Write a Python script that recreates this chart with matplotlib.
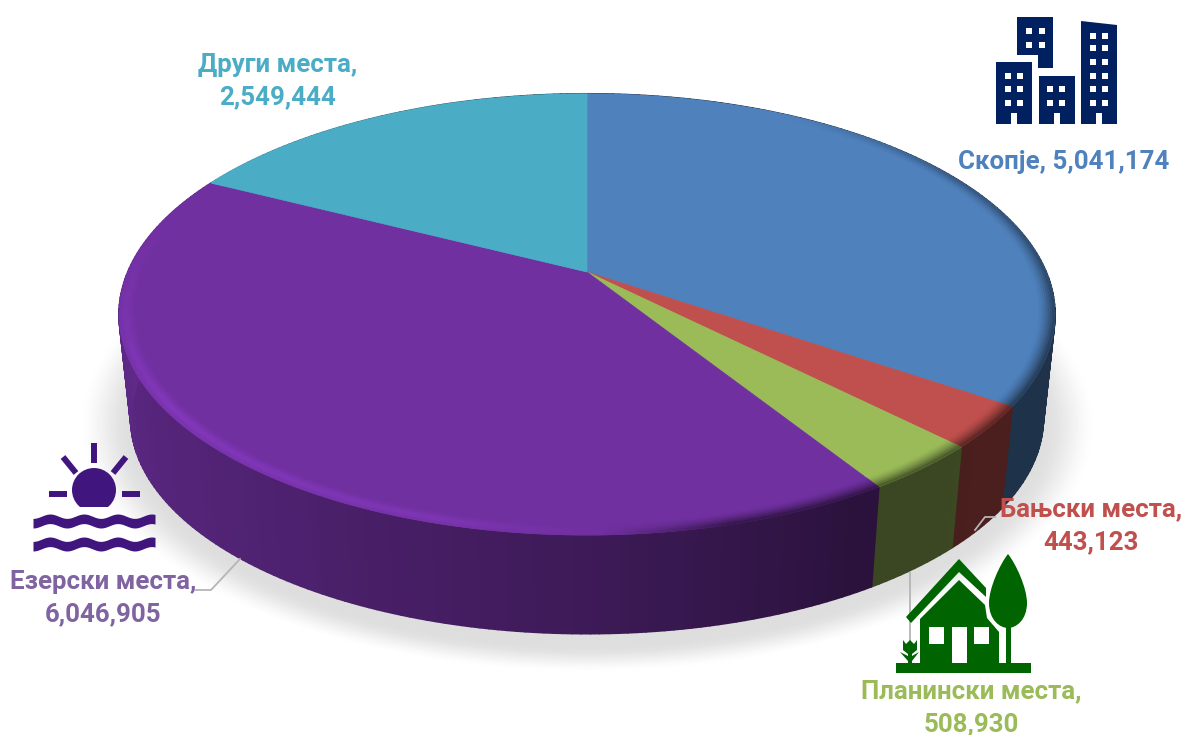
import numpy as np
import matplotlib
matplotlib.use('Agg')
import matplotlib.pyplot as plt
from matplotlib.collections import PolyCollection
from matplotlib.patches import Polygon, Rectangle, Circle, PathPatch
from matplotlib.path import Path

mesta = ['Скопје', 'Бањски места', 'Планински места', 'Езерски места', 'Други места']
turisti = [5041174, 443123, 508930, 6046905, 2549444]
boi = ['#4F81BD', '#C0504D', '#9BBB59', '#7030A0', '#4BACC6']
boi_tekst = ['#4F81BD', '#C0504D', '#9BBB59', '#8064A2', '#4BACC6']

# perspektiva na diskot
CX, CY = 587, 272
A, B, K = 459, 212.3, 0.1927
ELIPSA_Y = 315
DNO_Y = 419
DNO_S = 0.975


def proekcija(theta, r=1.0):
    u = r * np.sin(theta)
    v = r * np.cos(theta)
    w = 1 + K * v
    return CX + A * u / w, CY - B * v / w


def dno(x, y):
    return CX + DNO_S * (x - CX), DNO_Y + DNO_S * (y - ELIPSA_Y)


def osvetlenie(stepeni):
    return np.interp(stepeni % 360, [0, 90, 150, 180, 220, 270, 300, 360],
                     [0.4, 0.39, 0.38, 0.55, 0.72, 0.86, 0.9, 0.4])


def rab(stepeni):
    return np.interp(stepeni % 360, [0, 30, 60, 110, 165, 178, 195, 235, 265, 290, 360],
                     [0, 0, -0.3, -0.55, -0.55, 0, 0.12, 0.16, 0.07, 0, 0])


def boja(c, f):
    rgb = np.array(matplotlib.colors.to_rgb(c))
    return tuple(np.clip(rgb * (1 + f), 0, 1))


fig = plt.figure(figsize=(11.84, 7.35), dpi=100)
ax = fig.add_axes([0, 0, 1, 1])
ax.set_xlim(0, 1184)
ax.set_ylim(735, 0)
ax.axis('off')

plt.rcParams['font.family'] = ['Roboto', 'DejaVu Sans']

# senka pod pitata
yy, xx = np.mgrid[0:735, 0:1184]
d = np.sqrt(((xx - CX) / 478) ** 2 + ((yy - DNO_Y - 6) / 232) ** 2)
t = np.clip((1.07 - d) / 0.12, 0, 1)
t = t * t * (3 - 2 * t)
siva = 1 - 0.13 * t
ax.imshow(siva, cmap='gray', vmin=0, vmax=1, extent=(0, 1184, 735, 0), zorder=0, aspect='auto')

dela = np.array(turisti) / sum(turisti)
granici = np.concatenate([[0], np.cumsum(dela)]) * 2 * np.pi

# strana
for i, c in enumerate(boi):
    agli = np.linspace(granici[i], granici[i + 1], max(int((granici[i + 1] - granici[i]) * 60), 4))
    x, y = proekcija(agli)
    xd, yd = dno(x, y)
    kvadrati = []
    bojki = []
    for j in range(len(agli) - 1):
        kvadrati.append([(x[j], y[j]), (x[j + 1], y[j + 1]), (xd[j + 1], yd[j + 1]), (xd[j], yd[j])])
        bojki.append(boja(c, osvetlenie(np.degrees(agli[j])) - 1))
    ax.add_collection(PolyCollection(kvadrati, facecolors=bojki, edgecolors=bojki, linewidths=1.5, zorder=1))

# gorna strana
for i, c in enumerate(boi):
    agli = np.linspace(granici[i], granici[i + 1], 200)
    x, y = proekcija(agli)
    tocki = np.column_stack([np.r_[CX, x], np.r_[CY, y]])
    ax.add_patch(Polygon(tocki, closed=True, facecolor=c, edgecolor=c, linewidth=0.5, zorder=2))

# zaoblen rab
prsteni = np.linspace(0.965, 1.0, 9)
for i, c in enumerate(boi):
    agli = np.linspace(granici[i], granici[i + 1], max(int((granici[i + 1] - granici[i]) * 120), 6))
    kvadrati = []
    bojki = []
    for k in range(len(prsteni) - 1):
        x0, y0 = proekcija(agli, prsteni[k])
        x1, y1 = proekcija(agli, prsteni[k + 1])
        s = (k + 0.5) / (len(prsteni) - 1)
        for j in range(len(agli) - 1):
            g = rab(np.degrees(agli[j]))
            mnozitel = min(s / 0.55, 1) * (0.45 + 0.55 * min((1 - s) / 0.3, 1)) if g > 0 else s ** 1.5
            kvadrati.append([(x0[j], y0[j]), (x0[j + 1], y0[j + 1]), (x1[j + 1], y1[j + 1]), (x1[j], y1[j])])
            bojki.append(boja(c, g * mnozitel))
    ax.add_collection(PolyCollection(kvadrati, facecolors=bojki, edgecolors=bojki, linewidths=0.6, zorder=3))

# linii do etiketite
ax.plot([196, 211, 240], [590, 590, 559], color='#b5b5b5', lw=1.3, zorder=4)
ax.plot([995, 985, 975], [517, 517, 530], color='#b5b5b5', lw=1.3, zorder=4)
ax.plot([910, 910], [573, 650], color='#b5b5b5', lw=1.3, zorder=4)

# ikona: zgradi
TEMNO = '#002060'
zgradi = [
    [(1017, 17), (1053, 17), (1053, 68), (1038, 68), (1038, 55), (1017, 55)],
    [(996, 62), (1032, 62), (1032, 124), (996, 124)],
    [(1039, 76), (1075, 76), (1075, 124), (1039, 124)],
    [(1081, 21), (1117, 25), (1117, 124), (1081, 124)],
]
for z in zgradi:
    ax.add_patch(Polygon(z, closed=True, color=TEMNO, lw=0, zorder=5))
prozorci = [([1029, 1042], [31, 45]), ([1008, 1020], [76, 89, 103]),
            ([1050, 1062], [89, 103]), ([1093, 1105], [36, 48, 62, 76, 89, 103])]
for xs, ys in prozorci:
    for px in xs:
        for py in ys:
            ax.add_patch(Rectangle((px - 3, py - 3), 6, 6, color='white', lw=0, zorder=6))
for px in [1014, 1057, 1099]:
    ax.add_patch(Rectangle((px - 3, 113), 6, 11, color='white', lw=0, zorder=6))

# ikona: sonce
SONCE = '#40167E'
sonce = Circle((94, 490), 22, color=SONCE, lw=0, zorder=5)
ax.add_patch(sonce)
sonce.set_clip_path(Rectangle((60, 460), 70, 46.5, transform=ax.transData))
for (x0, y0, x1, y1) in [(94, 443, 94, 463), (49, 494, 67, 494), (122, 494, 140, 494),
                         (63, 457, 76, 473), (126, 457, 113, 473)]:
    ax.plot([x0, x1], [y0, y1], color=SONCE, lw=4.3, solid_capstyle='butt', zorder=5)
bran_x = np.linspace(33, 155, 120)
for y0 in [521, 544]:
    bran_y = y0 - 2.2 * np.cos((bran_x - 50) / 122 * 2 * np.pi * 3.6)
    ax.fill_between(bran_x, bran_y - 4.8, bran_y + 4.8, color=SONCE, lw=0, zorder=5)

# ikona: kukja
ZELENA = '#006400'
ax.add_patch(Rectangle((896, 663), 135, 10, color=ZELENA, lw=0, zorder=5))
ax.add_patch(Polygon([(906, 617), (959, 559), (986, 588), (986, 597), (959, 572), (911, 623)],
                     closed=True, color=ZELENA, lw=0, zorder=5))
ax.add_patch(Polygon([(920, 619), (959, 580), (985, 605), (987, 618), (999, 632), (999, 663), (920, 663)],
                     closed=True, color=ZELENA, lw=0, zorder=5))
for r in [(929, 627, 15, 17), (974, 627, 15, 17), (952, 627, 15, 36)]:
    ax.add_patch(Rectangle((r[0], r[1]), r[2], r[3], color='white', lw=0, zorder=6))
drvo = Path([(1008, 554), (1016, 564), (1027, 588), (1027, 603), (1027, 620), (1016, 628), (1008, 628),
             (1000, 628), (989, 620), (989, 603), (989, 588), (1000, 564), (1008, 554)],
            [Path.MOVETO] + [Path.CURVE4] * 12)
ax.add_patch(PathPatch(drvo, facecolor=ZELENA, edgecolor='none', zorder=5))
ax.add_patch(Rectangle((1006, 625), 5, 38, color=ZELENA, lw=0, zorder=5))
ax.add_patch(Polygon([(903, 640), (906, 644), (910, 640), (914, 644), (917, 640), (917, 650), (912, 654),
                      (912, 663), (908, 663), (908, 654), (903, 650)], closed=True, color=ZELENA, lw=0, zorder=5))
ax.add_patch(Polygon([(900, 652), (908, 656), (908, 661)], closed=True, color=ZELENA, lw=0, zorder=5))
ax.add_patch(Polygon([(919, 652), (912, 656), (912, 661)], closed=True, color=ZELENA, lw=0, zorder=5))

# etiketi: (x, y) na centarot
pozicii = [(1064, 162), (1091, 526), (971, 708), (103, 598), (278, 81)]
for i, ime in enumerate(mesta):
    if i == 0:
        tekst = f'{ime}, {turisti[i]:,}'
    else:
        tekst = f'{ime},\n{turisti[i]:,}'
    ax.text(pozicii[i][0], pozicii[i][1], tekst, color=boi_tekst[i], fontsize=18.6, fontweight='bold',
            ha='center', va='center', linespacing=1.47, zorder=7)

fig.savefig('out.png', dpi=100)
